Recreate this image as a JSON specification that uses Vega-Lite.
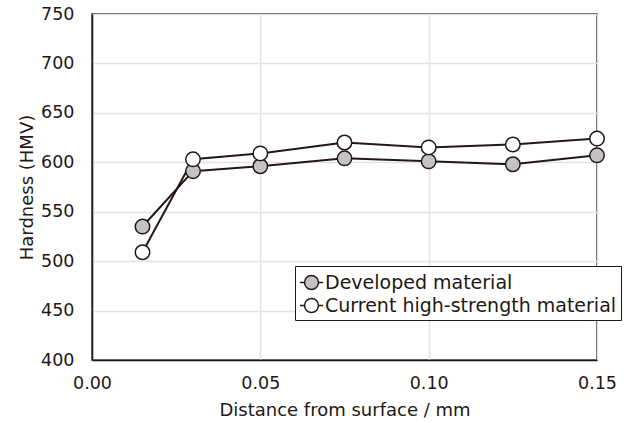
{
  "$schema": "https://vega.github.io/schema/vega-lite/v6.json",
  "autosize": "none",
  "width": 505,
  "height": 346,
  "padding": {"left": 92, "top": 14, "right": 36, "bottom": 63},
  "background": "white",
  "config": {
    "font": "DejaVu Sans",
    "view": {"stroke": "#231815", "strokeWidth": 1.5},
    "axis": {"labelFont": "DejaVu Sans", "titleFont": "DejaVu Sans", "labelColor": "#231815", "titleColor": "#231815", "titleFontWeight": "normal", "gridColor": "#e3e3e3", "gridWidth": 1.5, "domainColor": "#231815", "domainWidth": 1.5, "ticks": false, "labelFlush": false}
  },
  "data": {
    "values": [
      {"d": 0.015, "h": 535, "s": "Developed material"},
      {"d": 0.03, "h": 591, "s": "Developed material"},
      {"d": 0.05, "h": 596, "s": "Developed material"},
      {"d": 0.075, "h": 604, "s": "Developed material"},
      {"d": 0.1, "h": 601, "s": "Developed material"},
      {"d": 0.125, "h": 598, "s": "Developed material"},
      {"d": 0.15, "h": 607, "s": "Developed material"},
      {"d": 0.015, "h": 509, "s": "Current high-strength material"},
      {"d": 0.03, "h": 603, "s": "Current high-strength material"},
      {"d": 0.05, "h": 609, "s": "Current high-strength material"},
      {"d": 0.075, "h": 620, "s": "Current high-strength material"},
      {"d": 0.1, "h": 615, "s": "Current high-strength material"},
      {"d": 0.125, "h": 618, "s": "Current high-strength material"},
      {"d": 0.15, "h": 624, "s": "Current high-strength material"}
    ]
  },
  "encoding": {
    "x": {"field": "d", "type": "quantitative", "scale": {"domain": [0, 0.15], "nice": false},
      "axis": {"values": [0, 0.05, 0.1, 0.15], "format": ".2f", "title": "Distance from surface / mm", "labelFontSize": 17.5, "titleFontSize": 18, "labelPadding": 14, "titlePadding": 10}},
    "y": {"field": "h", "type": "quantitative", "scale": {"domain": [400, 750], "nice": false, "zero": false},
      "axis": {"values": [400, 450, 500, 550, 600, 650, 700, 750], "title": "Hardness (HMV)", "labelFontSize": 17.5, "titleFontSize": 18, "labelPadding": 18, "titlePadding": 4}}
  },
  "layer": [
    {
      "mark": {"type": "line", "color": "#231815", "strokeWidth": 2},
      "encoding": {"detail": {"field": "s"}}
    },
    {
      "mark": {"type": "point", "shape": "circle", "filled": true, "size": 210, "stroke": "#231815", "strokeWidth": 1.5, "opacity": 1},
      "encoding": {
        "fill": {"field": "s", "type": "nominal",
          "scale": {"domain": ["Developed material", "Current high-strength material"], "range": ["#c3c3c3", "#ffffff"]},
          "legend": {"title": null, "orient": "none", "legendX": 203, "legendY": 252,
            "symbolType": "M -1 0 L -0.6 0 M 0.6 0 L 1 0 M -0.6 0 A 0.6 0.6 0 1 1 0.6 0 A 0.6 0.6 0 1 1 -0.6 0 Z",
            "symbolSize": 540, "symbolStrokeColor": "#231815", "symbolStrokeWidth": 1.5, "symbolOpacity": 1,
            "labelFontSize": 19, "labelColor": "#231815", "labelFont": "DejaVu Sans", "labelOffset": 1,
            "strokeColor": "#231815", "fillColor": "white", "padding": 4, "rowPadding": -3, "labelLimit": 400}
        }
      }
    }
  ]
}
